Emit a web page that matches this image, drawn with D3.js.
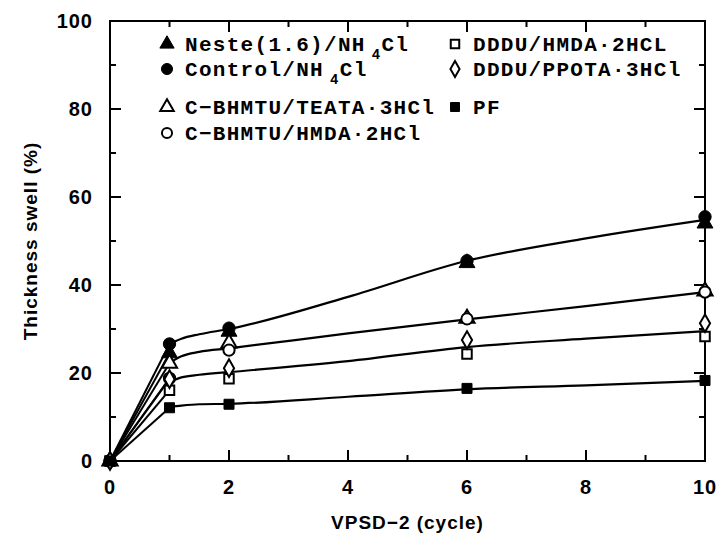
<!DOCTYPE html>
<html>
<head>
<meta charset="utf-8">
<script src="https://cdn.jsdelivr.net/npm/d3@7"></script>
<style>
  body{margin:0;background:#fff;}
  svg text{fill:#000;}
</style>
</head>
<body>
<svg width="717" height="536"></svg>
<script>
// measured points
var cycles=[0,1,2,6,10];
var neste=[0,24.5,29.4,45.0,54.0];
var control=[0,26.6,30.2,45.5,55.5];
var bhmtuTeata=[0,22.2,26.8,32.4,38.6];
var bhmtuHmda=[0,18.8,25.2,32.3,38.4];
var dddsHmda=[0,16.1,18.7,24.3,28.3];
var dddsPpota=[0,18.6,21.1,27.5,31.3];
var pf=[0,12.1,12.9,16.5,18.3];

// fitted curves
var fitX=[1,1.2,1.5,2,4,6,8,10];
var fitA=[26.6,27.8,28.8,30.0,37.3,45.5,50.6,54.8];
var fitB=[22.3,23.8,24.8,25.6,29.0,32.2,35.2,38.4];
var fitC=[18.0,19.0,19.6,20.2,22.7,25.9,27.8,29.5];
var fitD=[12.3,12.6,12.9,13.0,14.6,16.3,17.2,18.2];

var xTicks=[0,2,4,6,8,10];
var yTicks=[0,20,40,60,80,100];

var series=[
  {name:"Neste(1.6)/NH", sub:"4", rest:"Cl", vals:neste, sym:d3.symbolTriangle, fill:true, size:110},
  {name:"Control/NH", sub:"4", rest:"Cl", vals:control, sym:d3.symbolCircle, fill:true, size:120},
  {name:"C\u2212BHMTU/TEATA\u00b73HCl", vals:bhmtuTeata, sym:d3.symbolTriangle, fill:false, size:100},
  {name:"C\u2212BHMTU/HMDA\u00b72HCl", vals:bhmtuHmda, sym:d3.symbolCircle, fill:false, size:100},
  {name:"DDDU/HMDA\u00b72HCL", vals:dddsHmda, sym:d3.symbolSquare, fill:false, size:90},
  {name:"DDDU/PPOTA\u00b73HCl", vals:dddsPpota, sym:d3.symbolDiamond, fill:false, size:90},
  {name:"PF", vals:pf, sym:d3.symbolSquare, fill:true, size:100}
];

var margins={top:21,bottom:75,left:110,right:12};
var svg=d3.select("svg");
var width=717-margins.left-margins.right;
var height=536-margins.top-margins.bottom;

var xScale=d3.scaleLinear().domain([0,10]).range([0,width]);
var yScale=d3.scaleLinear().domain([0,100]).range([height,0]);

var plot=svg.append("g")
            .attr("transform","translate("+margins.left+","+margins.top+")");

// frame
plot.append("rect")
    .attr("x",0).attr("y",0)
    .attr("width",width).attr("height",height)
    .attr("fill","none").attr("stroke","#000").attr("stroke-width",2);

// ticks on all four sides, pointing in
var xAll=d3.range(0,11,1);
var yAll=d3.range(0,101,10);
xAll.forEach(function(v){
  var len=(v%2==0)?11:6;
  plot.append("line").attr("x1",xScale(v)).attr("x2",xScale(v))
      .attr("y1",height).attr("y2",height-len).attr("stroke","#000").attr("stroke-width",2);
  plot.append("line").attr("x1",xScale(v)).attr("x2",xScale(v))
      .attr("y1",0).attr("y2",len).attr("stroke","#000").attr("stroke-width",2);
});
yAll.forEach(function(v){
  var len=(v%20==0)?11:6;
  plot.append("line").attr("x1",0).attr("x2",len)
      .attr("y1",yScale(v)).attr("y2",yScale(v)).attr("stroke","#000").attr("stroke-width",2);
  plot.append("line").attr("x1",width).attr("x2",width-len)
      .attr("y1",yScale(v)).attr("y2",yScale(v)).attr("stroke","#000").attr("stroke-width",2);
});

// tick labels
var labFont="'Liberation Sans',Arial,sans-serif";
plot.selectAll(".xt").data(xTicks).enter().append("text")
    .attr("x",function(d){return xScale(d);})
    .attr("y",height+33)
    .attr("text-anchor","middle")
    .style("font-family",labFont).style("font-size","20px").style("font-weight","bold")
    .style("letter-spacing","1px")
    .text(function(d){return d;});
plot.selectAll(".yt").data(yTicks).enter().append("text")
    .attr("x",-17)
    .attr("y",function(d){return yScale(d)+7;})
    .attr("text-anchor","end")
    .style("font-family",labFont).style("font-size","20px").style("font-weight","bold")
    .style("letter-spacing","1px")
    .text(function(d){return d;});

// axis titles
svg.append("text")
   .attr("x",margins.left+width/2)
   .attr("y",529)
   .attr("text-anchor","middle")
   .style("font-family",labFont).style("font-size","19px").style("font-weight","bold")
   .style("letter-spacing","1px")
   .text("VPSD\u22122 (cycle)");
svg.append("text")
   .attr("transform","translate(37,"+(margins.top+height/2)+") rotate(-90)")
   .attr("text-anchor","middle")
   .style("font-family",labFont).style("font-size","19px").style("font-weight","bold")
   .style("letter-spacing","1px")
   .text("Thickness swell (%)");

// straight lines from origin to first measured point
series.forEach(function(s){
  plot.append("line")
      .attr("x1",xScale(cycles[0])).attr("y1",yScale(s.vals[0]))
      .attr("x2",xScale(cycles[1])).attr("y2",yScale(s.vals[1]))
      .attr("stroke","#000").attr("stroke-width",2);
});

// fitted curves
var line=d3.line()
           .x(function(d){return xScale(d[0]);})
           .y(function(d){return yScale(d[1]);})
           .curve(d3.curveMonotoneX);
[fitA,fitB,fitC,fitD].forEach(function(f){
  plot.append("path")
      .datum(fitX.map(function(x,i){return [x,f[i]];}))
      .attr("d",line)
      .attr("fill","none").attr("stroke","#000").attr("stroke-width",2.2);
});

// markers
series.forEach(function(s){
  plot.selectAll(null)
      .data(cycles.map(function(c,i){return [c,s.vals[i]];}))
      .enter().append("path")
      .attr("d",d3.symbol().type(s.sym).size(s.size))
      .attr("transform",function(d){return "translate("+xScale(d[0])+","+yScale(d[1])+")";})
      .attr("fill",s.fill?"#000":"#fff")
      .attr("stroke","#000").attr("stroke-width",s.fill?1:2);
});

// legend
var legFont="'Liberation Mono','Courier New',monospace";
var legPos=[
  {x:167,y:44},{x:167,y:69},{x:167,y:107},{x:167,y:133},
  {x:455,y:44},{x:455,y:69},{x:455,y:107}
];
series.forEach(function(s,i){
  var p=legPos[i];
  svg.append("path")
     .attr("d",d3.symbol().type(s.sym).size(s.size*0.8))
     .attr("transform","translate("+p.x+","+p.y+")")
     .attr("fill",s.fill?"#000":"#fff")
     .attr("stroke","#000").attr("stroke-width",s.fill?1:2);
  var t=svg.append("text")
     .attr("x",p.x+18).attr("y",p.y+7)
     .style("font-family",legFont).style("font-size","21px").style("font-weight","bold")
     .style("letter-spacing","1.3px");
  t.append("tspan").text(s.name);
  if(s.sub){
    t.append("tspan").attr("dx",6).attr("dy",8).style("font-size","14px").text(s.sub);
    t.append("tspan").attr("dy",-8).text(s.rest);
  }
});
</script>
</body>
</html>
